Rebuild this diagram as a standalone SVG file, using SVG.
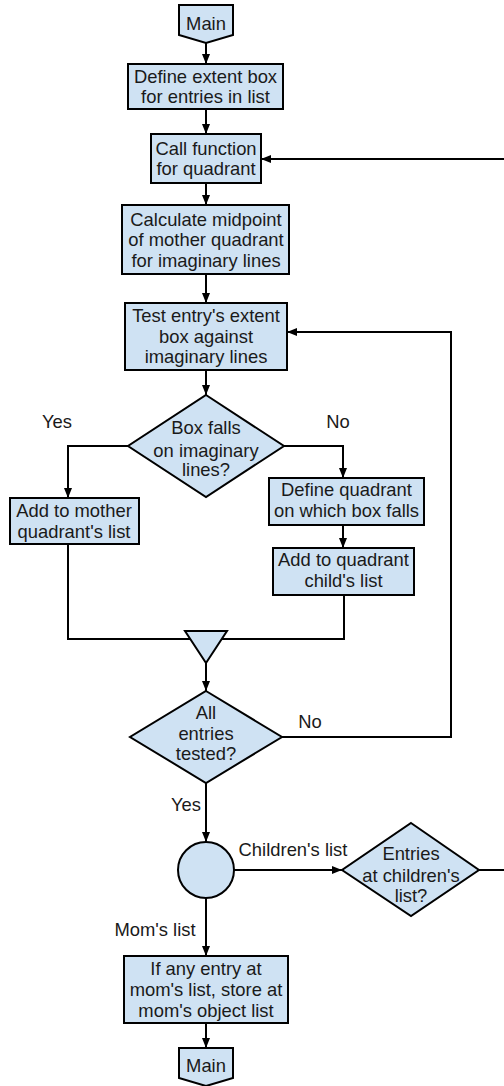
<svg xmlns="http://www.w3.org/2000/svg" width="504" height="1086" viewBox="0 0 504 1086">
  <defs>
    <marker id="arrow" markerUnits="userSpaceOnUse" markerWidth="10" markerHeight="9" refX="10" refY="4.5" orient="auto">
      <path d="M0,0.5 L10,4.5 L0,8.5 z" fill="#000"/>
    </marker>
    <style>
      .shape { fill: #cfe2f3; stroke: #000; stroke-width: 2; }
      .edge { fill: none; stroke: #000; stroke-width: 2; }
      .arrow { marker-end: url(#arrow); }
      text { font-family: "Liberation Sans", Arial, sans-serif; font-size: 18.4px; fill: #1a1a1a; text-anchor: middle; }
    </style>
  </defs>
  <rect width="504" height="1086" fill="#fff"/>

  <!-- connectors -->
  <g id="connectors">
    <path class="edge arrow" d="M206,43 V64"/>
    <path class="edge arrow" d="M206,109 V134"/>
    <path class="edge arrow" d="M504,159 H261"/>
    <path class="edge arrow" d="M206,183 V205"/>
    <path class="edge arrow" d="M206,274 V303"/>
    <path class="edge arrow" d="M206,370 V395"/>
    <path class="edge arrow" d="M128,446 H68 V498"/>
    <path class="edge arrow" d="M284,446 H343 V478"/>
    <path class="edge arrow" d="M343,525 V548"/>
    <path class="edge" d="M68,544 V639 H344 V595"/>
    <path class="edge arrow" d="M206,663 V691"/>
    <path class="edge arrow" d="M282,737 H451 V332 H287"/>
    <path class="edge arrow" d="M206,783 V842"/>
    <path class="edge arrow" d="M234,870 H342"/>
    <path class="edge" d="M479,870 H504"/>
    <path class="edge arrow" d="M206,898 V956"/>
    <path class="edge arrow" d="M206,1023 V1048"/>
  </g>

  <!-- edge labels -->
  <g id="edge-labels">
    <text x="57" y="428">Yes</text>
    <text x="338" y="428">No</text>
    <text x="310" y="728">No</text>
    <text x="186" y="811">Yes</text>
    <text x="293" y="856">Children's list</text>
    <text x="155" y="936">Mom's list</text>
  </g>

  <g id="main-start">
    <polygon class="shape" points="179,5 233,5 233,35 206,43 179,35"/>
    <text x="206" y="30">Main</text>
  </g>

  <g id="define-extent">
    <rect class="shape" x="128" y="64" width="155" height="45"/>
    <text x="205.5" y="82.5">Define extent box</text>
    <text x="205.5" y="102.5">for entries in list</text>
  </g>

  <g id="call-function">
    <rect class="shape" x="151" y="134" width="110" height="49"/>
    <text x="206" y="154.5">Call function</text>
    <text x="206" y="174.5">for quadrant</text>
  </g>

  <g id="calculate-midpoint">
    <rect class="shape" x="122" y="205" width="167" height="69"/>
    <text x="206" y="225.5">Calculate midpoint</text>
    <text x="206" y="246">of mother quadrant</text>
    <text x="206" y="266.5">for imaginary lines</text>
  </g>

  <g id="test-entry">
    <rect class="shape" x="125" y="303" width="162" height="67"/>
    <text x="206" y="321.5">Test entry's extent</text>
    <text x="206" y="342.5">box against</text>
    <text x="206" y="363">imaginary lines</text>
  </g>

  <g id="box-falls">
    <polygon class="shape" points="206,395 284,446 206,497 128,446"/>
    <text x="206" y="434">Box falls</text>
    <text x="206" y="456.5">on imaginary</text>
    <text x="206" y="476">lines?</text>
  </g>

  <g id="add-mother">
    <rect class="shape" x="10" y="498" width="129" height="46"/>
    <text x="74" y="517">Add to mother</text>
    <text x="74" y="538">quadrant's list</text>
  </g>

  <g id="define-quadrant">
    <rect class="shape" x="269" y="478" width="155" height="47"/>
    <text x="346.5" y="496">Define quadrant</text>
    <text x="346.5" y="517">on which box falls</text>
  </g>

  <g id="add-child">
    <rect class="shape" x="273" y="548" width="141" height="47"/>
    <text x="343.5" y="566">Add to quadrant</text>
    <text x="343.5" y="587">child's list</text>
  </g>

  <g id="merge">
    <polygon class="shape" points="185,631 227,631 206,663"/>
  </g>

  <g id="all-tested">
    <polygon class="shape" points="206,691 282,737 206,783 130,737"/>
    <text x="206" y="719">All</text>
    <text x="206" y="739.5">entries</text>
    <text x="206" y="760">tested?</text>
  </g>

  <g id="split">
    <circle class="shape" cx="206" cy="870" r="28"/>
  </g>

  <g id="entries-children">
    <polygon class="shape" points="411,823 479,870 411,916 342,870"/>
    <text x="411" y="859.5">Entries</text>
    <text x="411" y="882">at children's</text>
    <text x="411" y="902">list?</text>
  </g>

  <g id="store-mom">
    <rect class="shape" x="124" y="956" width="164" height="67"/>
    <text x="206" y="974.5">If any entry at</text>
    <text x="206" y="996">mom's list, store at</text>
    <text x="206" y="1016.5">mom's object list</text>
  </g>

  <g id="main-end">
    <polygon class="shape" points="179,1048 233,1048 233,1078 206,1086 179,1078"/>
    <text x="206" y="1072">Main</text>
  </g>
</svg>
